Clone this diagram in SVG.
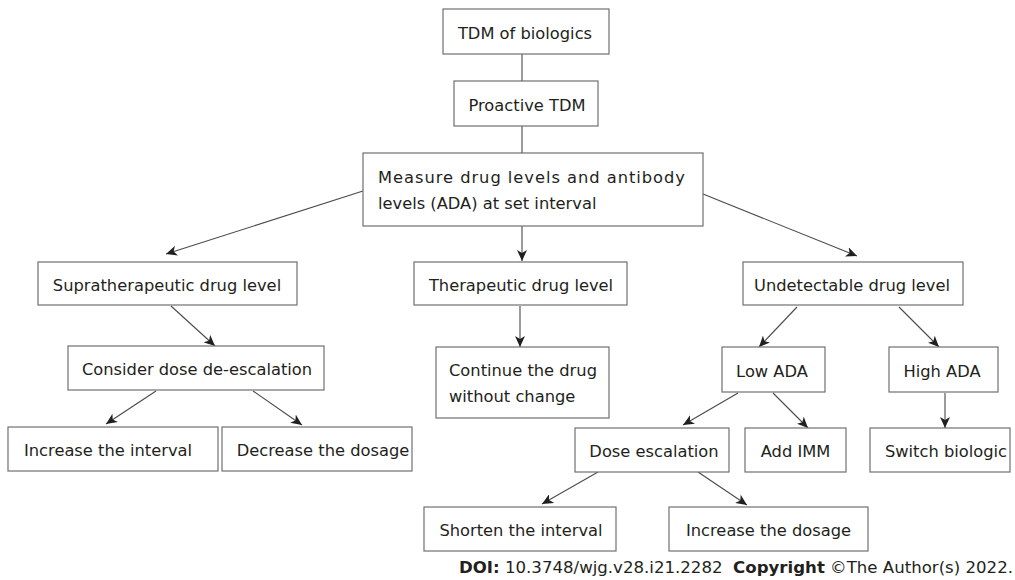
<svg xmlns="http://www.w3.org/2000/svg" width="1015" height="580" viewBox="0 0 1015 580">
<style>
rect.box{fill:#fff;stroke:#707070;stroke-width:1.2}
text{font-family:"DejaVu Sans","Verdana",sans-serif;font-size:16.3px;fill:#231f20}
.c{text-anchor:middle}
.conn line{stroke:#4a4a4a;stroke-width:1.1}
.conn line.a{marker-end:url(#arr)}
</style>
<defs>
<marker id="arr" markerUnits="userSpaceOnUse" markerWidth="12" markerHeight="10" viewBox="0 0 12 10" refX="11" refY="5" orient="auto">
<path d="M0,0 L11,5 L0,10 L3,5 z" fill="#231f20"/>
</marker>
</defs>
<rect width="1015" height="580" fill="#fff"/>
<g class="conn" id="connectors">
<line x1="522" y1="54" x2="522" y2="81"/>
<line x1="522" y1="126" x2="522" y2="153"/>
<line class="a" x1="363" y1="191" x2="166" y2="254"/>
<line class="a" x1="522" y1="226" x2="522" y2="261"/>
<line class="a" x1="703" y1="194" x2="857" y2="256"/>
<line class="a" x1="171" y1="306" x2="215" y2="346"/>
<line class="a" x1="156" y1="391" x2="106" y2="424"/>
<line class="a" x1="253" y1="391" x2="302" y2="425"/>
<line class="a" x1="520" y1="306" x2="520" y2="347"/>
<line class="a" x1="797" y1="307" x2="759" y2="347"/>
<line class="a" x1="899" y1="307" x2="939" y2="347"/>
<line class="a" x1="738" y1="393" x2="683" y2="425"/>
<line class="a" x1="773" y1="393" x2="808" y2="428"/>
<line class="a" x1="945" y1="393" x2="945" y2="428"/>
<line class="a" x1="598" y1="472" x2="542" y2="504"/>
<line class="a" x1="698" y1="472" x2="747" y2="505"/>
</g>
<g id="tdm"><rect class="box" x="443" y="9" width="166" height="45"/><text class="c" x="525" y="38.5">TDM of biologics</text></g>
<g id="proactive"><rect class="box" x="454" y="81" width="144" height="45"/><text class="c" x="527" y="110.5">Proactive TDM</text></g>
<g id="measure"><rect class="box" x="363" y="153" width="340" height="73"/>
<text x="378" y="182.5" textLength="307" lengthAdjust="spacing">Measure drug levels and antibody</text>
<text x="378" y="209">levels (ADA) at set interval</text></g>
<g id="supra"><rect class="box" x="38" y="262" width="259" height="43"/><text class="c" x="167" y="291">Supratherapeutic drug level</text></g>
<g id="therapeutic"><rect class="box" x="414" y="262" width="213" height="43"/><text class="c" x="521" y="291">Therapeutic drug level</text></g>
<g id="undetectable"><rect class="box" x="743" y="262" width="220" height="43"/><text class="c" x="852" y="291">Undetectable drug level</text></g>
<g id="consider"><rect class="box" x="68" y="346" width="256" height="44"/><text class="c" x="197" y="375">Consider dose de-escalation</text></g>
<g id="continue"><rect class="box" x="436" y="347" width="173" height="71"/>
<text x="449" y="376">Continue the drug</text><text x="449" y="401.5">without change</text></g>
<g id="lowada"><rect class="box" x="722" y="347" width="103" height="45"/><text class="c" x="772" y="376.5">Low ADA</text></g>
<g id="highada"><rect class="box" x="889" y="347" width="109" height="45"/><text class="c" x="942" y="376.5">High ADA</text></g>
<g id="incinterval"><rect class="box" x="8" y="427" width="210" height="44"/><text class="c" x="108" y="456">Increase the interval</text></g>
<g id="decdosage"><rect class="box" x="222" y="427" width="190" height="44"/><text class="c" x="323" y="456">Decrease the dosage</text></g>
<g id="doseesc"><rect class="box" x="575" y="428" width="154" height="44"/><text class="c" x="654" y="457">Dose escalation</text></g>
<g id="addimm"><rect class="box" x="745" y="428" width="101" height="44"/><text class="c" x="795.5" y="457">Add IMM</text></g>
<g id="switch"><rect class="box" x="870" y="428" width="140" height="44"/><text class="c" x="946" y="457">Switch biologic</text></g>
<g id="shorten"><rect class="box" x="424" y="507" width="192" height="44"/><text class="c" x="521" y="536">Shorten the interval</text></g>
<g id="incdosage"><rect class="box" x="669" y="507" width="199" height="44"/><text class="c" x="768.5" y="536">Increase the dosage</text></g>
<text x="459" y="573" font-size="16" textLength="554" lengthAdjust="spacingAndGlyphs" xml:space="preserve"><tspan font-weight="bold">DOI:</tspan> 10.3748/wjg.v28.i21.2282  <tspan font-weight="bold">Copyright</tspan> ©The Author(s) 2022.</text>
</svg>
